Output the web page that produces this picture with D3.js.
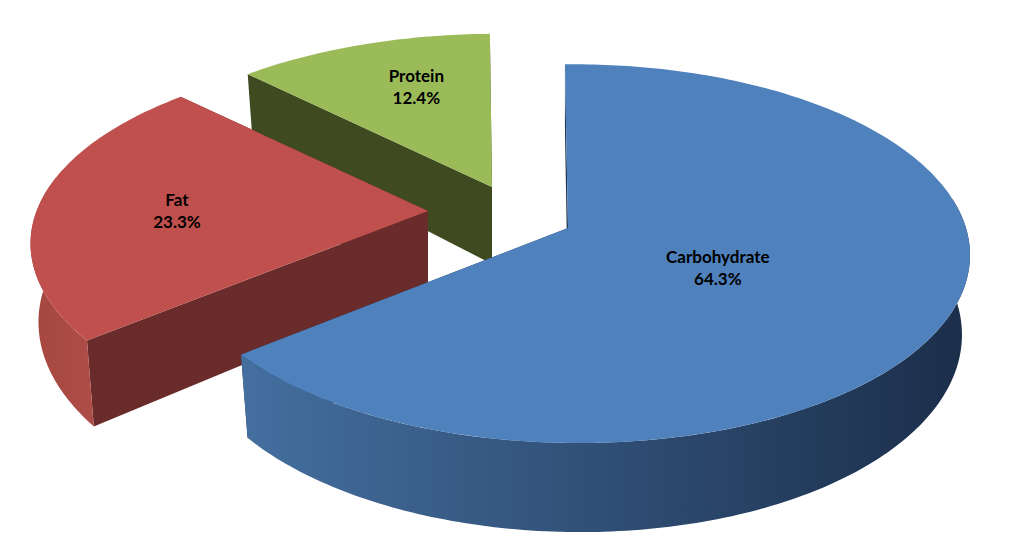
<!DOCTYPE html>
<html><head><meta charset="utf-8">
<script src="https://cdn.jsdelivr.net/npm/d3@7"></script>
<style>html,body{margin:0;background:#fff}svg{display:block}
text{font-family:Lato,"Open Sans",sans-serif;font-weight:700;font-size:17px;fill:#000;text-anchor:middle}</style>
</head><body><script>
const categories = ["Carbohydrate","Fat","Protein"];
const shares = [64.3,23.3,12.4];
const topColors = ["#4f81bd","#c0504d","#9bbb59"];
const wallColors = ["#1f3552","#6a2c2a","#3f4a20"];
const rimLeftColors = ["#446f9f","#a4473f","#3f4a20"];
const rimRightColors = ["#1b2e4a","#ae4c47","#3f4a20"];

const W=1024,H=551;
const svg=d3.select("body").append("svg").attr("width",W).attr("height",H);
const defs=svg.append("defs");

// Perspective model of the pie disc: unit-circle plane coordinates to screen offsets
const perspV=[0.1346,0.18,0.2], perspU=0.02, radiusX=392, radiusY=186, depth=77;
const shearX=15, shearY=0.02, floorShrink=0.98;
const sx=d3.scaleLinear().domain([0,1]).range([0,radiusX]);
const sy=d3.scaleLinear().domain([0,1]).range([0,-radiusY]);
const firstAngle=-3*Math.PI/180;
const pie=d3.pie().sort(null).startAngle(firstAngle).endAngle(firstAngle+2*Math.PI);
const arcs=pie(shares);

// pull-out of each slice from the shared hub, and its size after foreshortening
const hub=[501,211], pullX=[67,-73,-9], pullY=[17,0,-24];
const sliceScaleX=[1,1.01,1.01], sliceScaleY=[1,0.99,0.99];
const labelRadius=[0.43,0.63,0.68], labelNudgeX=[-8,-5,17], labelNudgeY=[5,6,2];

function project(i,a,r,drop){
  const u=r*Math.sin(a), v=r*Math.cos(a), k=1/(1+perspV[i]*v-perspU*u);
  let x=(sx(u)*k+shearX*v)*sliceScaleX[i];
  let y=sy(v)*k*sliceScaleY[i]+shearY*x;
  if(drop){ x*=floorShrink; y+=depth*k; }
  return [hub[0]+pullX[i]+x, hub[1]+pullY[i]+y];
}
function rim(i,a0,a1,drop){
  const n=Math.max(8,Math.ceil((a1-a0)*60));
  return d3.range(n+1).map(j=>project(i,a0+(a1-a0)*j/n,1,drop));
}
const line=d3.line();
const closed=pts=>line(pts)+"Z";

// order back-to-front: protein, fat, carbohydrate
[2,1,0].forEach(i=>{
  const d=arcs[i], a0=d.startAngle, a1=d.endAngle, g=svg.append("g");
  const C=project(i,0,0,false), Cd=project(i,0,0,true);
  const A0=project(i,a0,1,false), A0d=project(i,a0,1,true);
  const A1=project(i,a1,1,false), A1d=project(i,a1,1,true);

  // cut faces
  g.append("path").attr("d",closed([C,Cd,A1d,A1])).attr("fill",wallColors[i]);
  g.append("path").attr("d",closed([C,Cd,A0d,A0])).attr("fill",wallColors[i]);

  // outer rim: only the part facing the viewer
  const lo=Math.max(a0,Math.PI/2-0.2), hi=Math.min(a1,3*Math.PI/2+0.15);
  if(hi>lo){
    const t=rim(i,lo,hi,false), b=rim(i,lo,hi,true).reverse();
    const id="rim"+i, xs=t.map(p=>p[0]);
    const gr=defs.append("linearGradient").attr("id",id).attr("gradientUnits","userSpaceOnUse")
      .attr("x1",d3.min(xs)).attr("x2",d3.max(xs)).attr("y1",0).attr("y2",0);
    gr.append("stop").attr("offset",0).attr("stop-color",rimLeftColors[i]);
    gr.append("stop").attr("offset",1).attr("stop-color",rimRightColors[i]);
    g.append("path").attr("d",closed(t.concat(b))).attr("fill",`url(#${id})`);
  }
  // top surface
  g.append("path").attr("d",closed([C].concat(rim(i,a0,a1,false)))).attr("fill",topColors[i]);
});

// labels
arcs.forEach((d,i)=>{
  const mid=(d.startAngle+d.endAngle)/2, p=project(i,mid,labelRadius[i],false);
  const t=svg.append("text").attr("transform",`translate(${p[0]+labelNudgeX[i]},${p[1]+labelNudgeY[i]})`);
  t.append("tspan").attr("x",0).attr("y",-5).text(categories[i]);
  t.append("tspan").attr("x",0).attr("y",17).text(shares[i].toFixed(1)+"%");
});
</script></body></html>
